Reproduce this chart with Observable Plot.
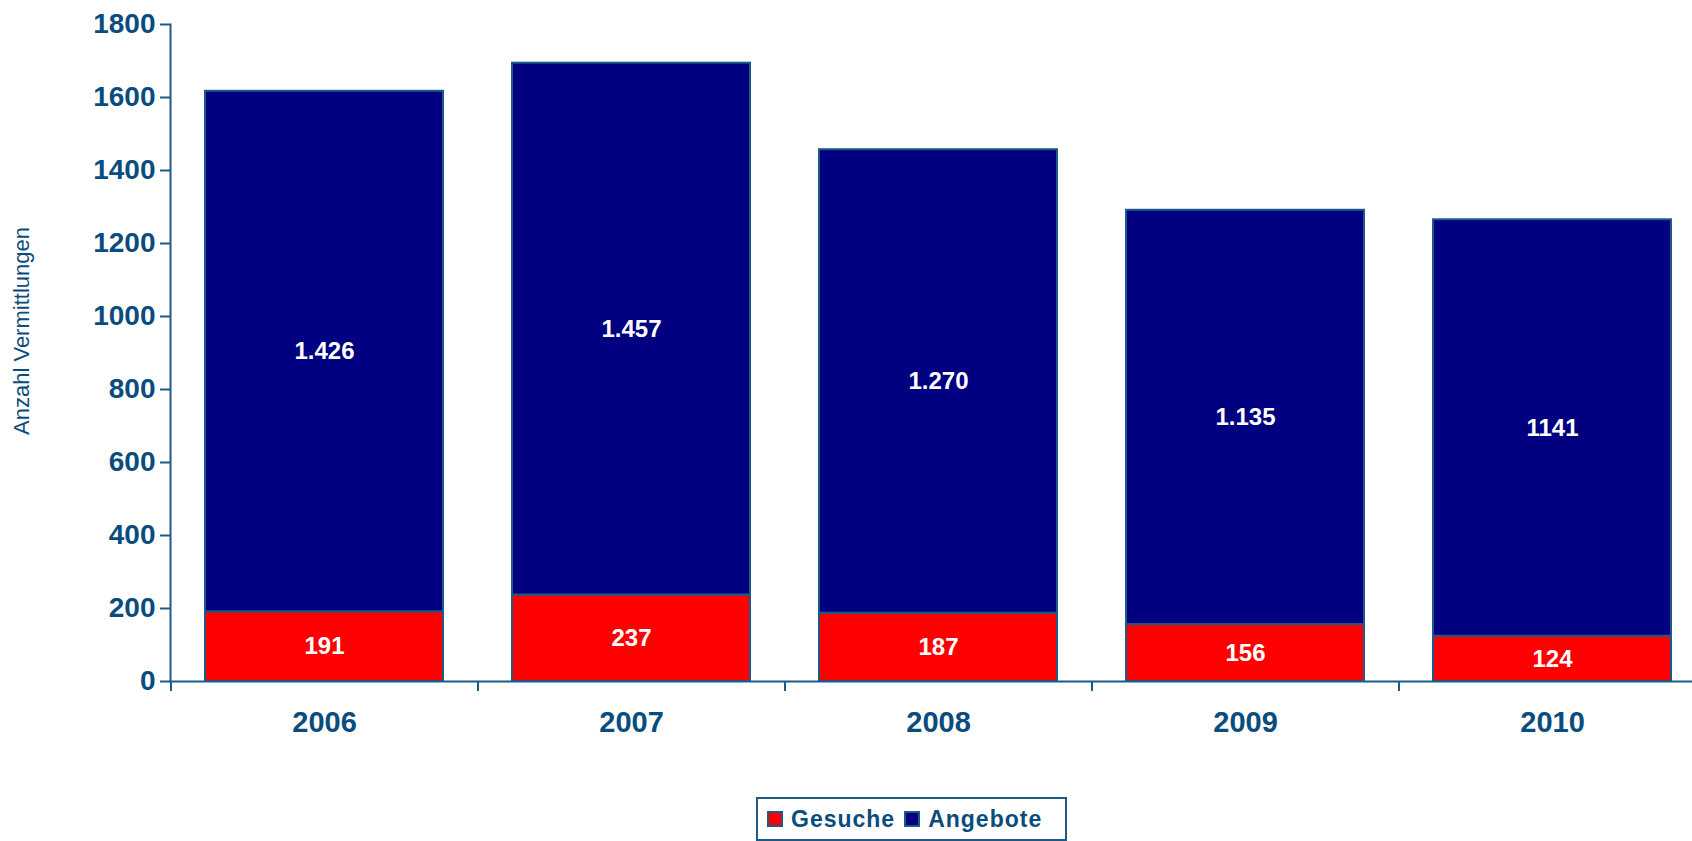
<!DOCTYPE html>
<html>
<head>
<meta charset="utf-8">
<script src="https://cdn.jsdelivr.net/npm/d3@7"></script>
<script src="https://cdn.jsdelivr.net/npm/@observablehq/plot@0.6"></script>
<style>
  html, body { margin: 0; padding: 0; background: #fff; }
  body { width: 1692px; height: 841px; overflow: hidden; font-family: "Liberation Sans", Arial, sans-serif; }
  #chart svg { display: block; }
  #legend {
    position: absolute; left: 756px; top: 797px; width: 307px; height: 40px;
    border: 2px solid #1c5b87; box-sizing: content-box;
    display: flex; align-items: center; padding-left: 0;
    color: #0a4c7d; font-weight: bold; font-size: 23px; letter-spacing: 1px;
  }
  .sw { display: inline-block; width: 12px; height: 12px; border: 2px solid #1c5b87; margin-right: 8px; }
  .item { display: flex; align-items: center; margin-left: 9px; }
</style>
</head>
<body>
<div id="chart"></div>
<div id="legend"></div>
<script>
const years = ["2006", "2007", "2008", "2009", "2010"];
const gesuche = [191, 237, 187, 156, 124];
const angebote = [1426, 1457, 1270, 1135, 1141];
const gesucheLabels = ["191", "237", "187", "156", "124"];
const angeboteLabels = ["1.426", "1.457", "1.270", "1.135", "1141"];
const seriesNames = ["Gesuche", "Angebote"];
const seriesColors = ["#ff0000", "#000080"];
const yTicks = [0, 200, 400, 600, 800, 1000, 1200, 1400, 1600, 1800];
const yTitle = "Anzahl Vermittlungen";

const data = [];
years.forEach((y, i) => {
  data.push({year: y, series: "Gesuche", value: gesuche[i], label: gesucheLabels[i]});
  data.push({year: y, series: "Angebote", value: angebote[i], label: angeboteLabels[i]});
});

const W = 1692, H = 797, mL = 170, mR = -13, mT = 24, mB = 116;
const step = (W - mL - mR) / years.length;
const axisColor = "#1c5b87";
const textColor = "#0a4c7d";

const chart = Plot.plot({
  width: W,
  height: H,
  marginLeft: mL,
  marginRight: mR,
  marginTop: mT,
  marginBottom: mB,
  style: {fontFamily: "'Liberation Sans', Arial, sans-serif", color: textColor, background: "#fff"},
  x: {domain: years, paddingInner: 0.225, paddingOuter: 0.1125},
  y: {domain: [0, 1800]},
  color: {domain: seriesNames, range: seriesColors},
  marks: [
    Plot.barY(data, Plot.stackY({x: "year", y: "value", fill: "series", stroke: axisColor, strokeWidth: 2})),
    Plot.text(data, Plot.stackY({x: "year", y: "value", text: "label", fill: "white", fontSize: 24, fontWeight: "bold"})),
    Plot.ruleY([0], {stroke: axisColor, strokeWidth: 2}),
    Plot.ruleX(years, {x: d => d, y1: 0, y2: 0, insetBottom: -10, dx: -step / 2, stroke: axisColor, strokeWidth: 2}),
    Plot.frame({anchor: "left", stroke: axisColor, strokeWidth: 2}),
    Plot.axisY({ticks: yTicks, tickSize: 10, tickPadding: 5, tickFormat: d => String(d), fontSize: 28, fontWeight: "bold",
      stroke: axisColor, strokeWidth: 2, fill: textColor,
      label: yTitle, labelAnchor: "center", labelOffset: 157, labelArrow: "none"}),
    Plot.axisX({tickSize: 0, tickPadding: 30, fontSize: 29, fontWeight: "bold", fill: textColor, label: null})
  ]
});
document.getElementById("chart").appendChild(chart);
chart.querySelectorAll("text").forEach(t => {
  if (t.textContent.trim() === yTitle) {
    t.setAttribute("font-size", 22);
    t.setAttribute("font-weight", "normal");
    t.style.fontWeight = "normal";
    t.style.fontSize = "22px";
    const tr = t.getAttribute("transform") || "";
    const m = tr.match(/translate\(([-\d.]+),\s*([-\d.]+)\)/);
    if (m) {
      t.setAttribute("transform", tr.replace(m[0], `translate(${m[1]},${+m[2] - 22})`));
    }
  }
});

const legend = document.getElementById("legend");
seriesNames.forEach((n, i) => {
  const item = document.createElement("div");
  item.className = "item";
  const sw = document.createElement("span");
  sw.className = "sw";
  sw.style.background = seriesColors[i];
  item.appendChild(sw);
  item.appendChild(document.createTextNode(n));
  legend.appendChild(item);
});
</script>
</body>
</html>
